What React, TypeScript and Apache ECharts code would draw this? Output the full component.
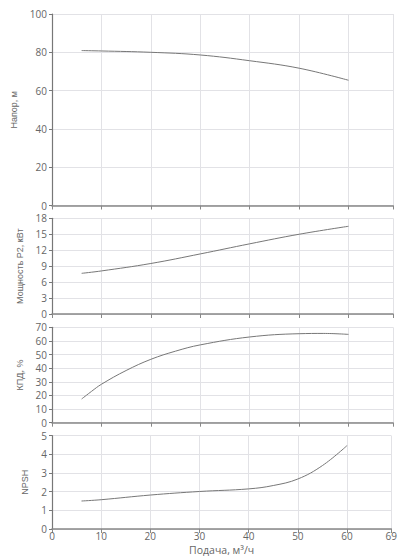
import React, { useEffect, useRef } from "react";
import * as echarts from "echarts";

const flow = [6, 10, 20, 30, 40, 50, 60];
const head = [80.9, 80.7, 80.0, 78.6, 75.6, 71.7, 65.4];
const power = [7.65, 8.1, 9.5, 11.3, 13.2, 15.0, 16.5];
const efficiencyFlow = [6, 8, 10, 15, 20, 25, 30, 40, 50, 55, 60];
const efficiency = [17.4, 23.0, 28.2, 38.3, 46.5, 52.5, 57.1, 62.9, 65.3, 65.5, 64.8];
const npshFlow = [6, 10, 20, 30, 40, 45, 50, 55, 60];
const npsh = [1.5, 1.57, 1.82, 2.01, 2.15, 2.33, 2.68, 3.4, 4.47];

const yNames = ["Напор, м", "Мощность P2, кВт", "КПД, %", "NPSH"];
const yMax = [100, 18, 70, 5];
const yInterval = [20, 3, 10, 1];
const xName = "Подача, м³/ч";
const xMax = 69;
const xInterval = 10;

const pairs = (xs: number[], ys: number[]) => xs.map((x, i) => [x, ys[i]]);

export default function App() {
  const ref = useRef<HTMLDivElement>(null);
  useEffect(() => {
    if (!ref.current) return;
    const chart = echarts.init(ref.current, null, { renderer: "svg" });
    const grids = [
      { left: 52, right: 7, top: 14, height: 191.5 },
      { left: 52, right: 7, top: 218.3, height: 95.7 },
      { left: 52, right: 7, top: 327.3, height: 95.4 },
      { left: 52, right: 7, top: 435.7, height: 95.3 },
    ];
    const nameGaps = [33, 27, 27, 23];
    const font = "'Open Sans', sans-serif";
    const xAxes = grids.map((_, i) => ({
      type: "value",
      gridIndex: i,
      min: 0,
      max: xMax,
      interval: xInterval,
      name: i === 3 ? xName : "",
      nameLocation: "middle",
      nameGap: 15.5,
      nameTextStyle: { color: "#666", fontSize: 10.5, fontFamily: font, verticalAlign: "top", lineHeight: 10 },
      axisLine: { show: true, onZero: false, lineStyle: { color: "#888", width: 1.5 } },
      axisTick: { show: true, length: 4, lineStyle: { color: "#888" } },
      axisLabel: { show: i === 3, color: "#666", fontSize: 10, fontFamily: font, margin: 2, showMaxLabel: true, lineHeight: 10 },
      splitLine: { show: true, lineStyle: { color: "#e2e2e6", width: 1 } },
    }));
    const yAxes = grids.map((_, i) => ({
      type: "value",
      gridIndex: i,
      min: 0,
      max: yMax[i],
      interval: yInterval[i],
      name: yNames[i],
      nameLocation: "middle",
      nameGap: nameGaps[i],
      nameTextStyle: { color: "#666", fontSize: 9, fontFamily: "'Liberation Sans', Arial, sans-serif" },
      axisLine: { show: true, lineStyle: { color: "#777", width: 1.2 } },
      axisTick: { show: true, length: 3, lineStyle: { color: "#777" } },
      axisLabel: { color: "#666", fontSize: 10, fontFamily: font, margin: 5 },
      splitLine: { show: true, lineStyle: { color: "#e2e2e6", width: 1 } },
    }));
    const lineStyle = { color: "#777", width: 1 };
    const mk = (idx: number, data: number[][]) => ({
      type: "line",
      xAxisIndex: idx,
      yAxisIndex: idx,
      data,
      smooth: 0.4,
      showSymbol: false,
      symbol: "none",
      lineStyle,
      silent: true,
    });
    chart.setOption({
      animation: false,
      backgroundColor: "#fff",
      grid: grids,
      xAxis: xAxes,
      yAxis: yAxes,
      series: [
        mk(0, pairs(flow, head)),
        mk(1, pairs(flow, power)),
        mk(2, pairs(efficiencyFlow, efficiency)),
        mk(3, pairs(npshFlow, npsh)),
      ],
    });
    return () => chart.dispose();
  }, []);
  return <div ref={ref} style={{ width: 400, height: 556, position: "absolute", left: 0, top: 0 }} />;
}
